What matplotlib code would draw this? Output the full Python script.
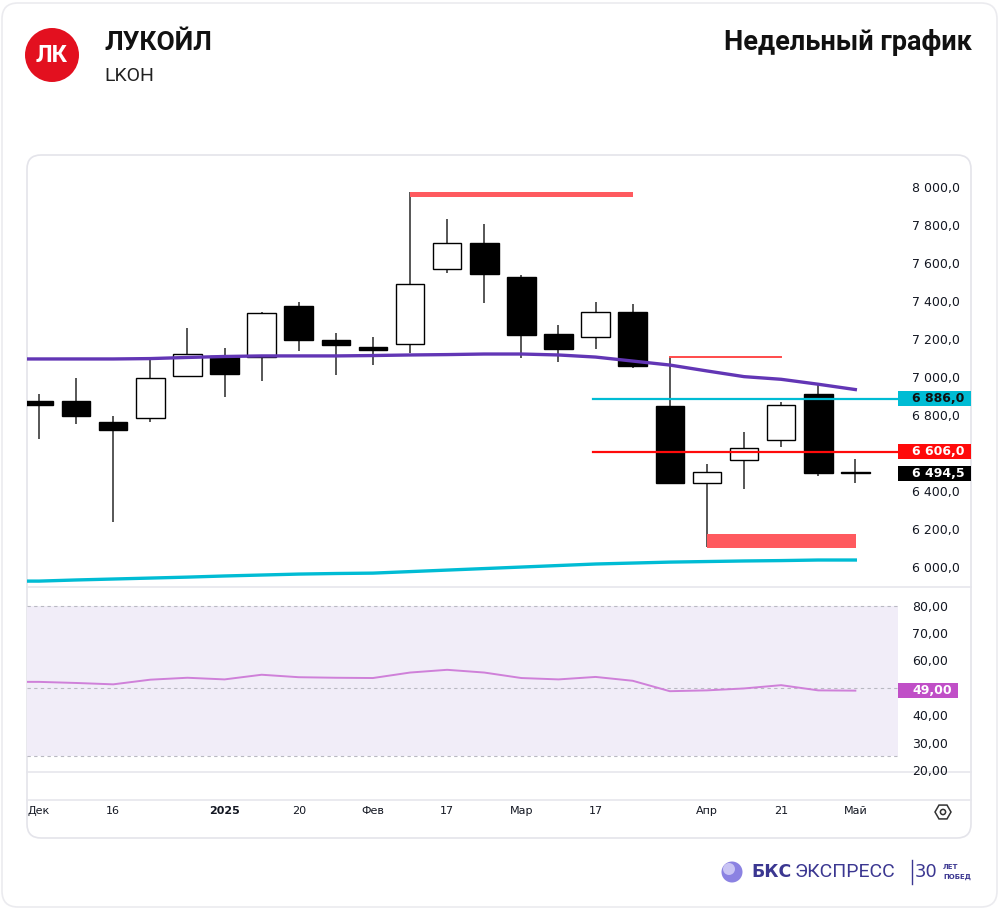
import matplotlib.pyplot as plt
import numpy as np
import pandas as pd
from matplotlib.patches import FancyBboxPatch, Rectangle, Circle, RegularPolygon
from matplotlib.transforms import IdentityTransform

# weekly candles LKOH, Dec 2024 - May 2025
dates = pd.date_range('2024-12-02', periods=23, freq='W-MON')
opens = [6874, 6874, 6765, 6783, 7005, 7111, 7105, 7372, 7193, 7156, 7172, 7570,
         7707, 7528, 7228, 7212, 7344, 6849, 6441, 6563, 6668, 6909, 6500]
highs = [6909, 6993, 6796, 7095, 7256, 7154, 7340, 7396, 7230, 7212, 7975, 7832,
         7804, 7535, 7275, 7393, 7383, 7107, 6542, 6712, 6870, 6958, 6570]
lows = [6675, 6751, 6235, 6762, 7002, 6896, 6977, 7138, 7012, 7065, 7128, 7549,
        7391, 7098, 7081, 7147, 7046, 6441, 6107, 6409, 6630, 6479, 6444]
closes = [6853, 6795, 6721, 6996, 7119, 7017, 7335, 7195, 7167, 7142, 7488, 7707,
          7542, 7221, 7147, 7344, 7059, 6441, 6502, 6625, 6851, 6496, 6494.5]
ma_slow = [7095, 7095, 7095, 7097, 7103, 7108, 7111, 7111, 7111, 7113, 7116, 7118,
           7121, 7121, 7116, 7105, 7084, 7063, 7032, 7002, 6988, 6962, 6934]
ma_long = [5926, 5932, 5937, 5942, 5947, 5953, 5958, 5963, 5966, 5968, 5976, 5984,
           5992, 6000, 6008, 6016, 6021, 6026, 6029, 6032, 6034, 6037, 6037]
rsi = [52.2, 51.8, 51.3, 53.0, 53.7, 53.1, 54.8, 53.9, 53.7, 53.6, 55.6, 56.6,
       55.6, 53.6, 53.1, 54.0, 52.6, 48.8, 49.1, 49.8, 51.0, 49.1, 49.0]

tick_idx = [0, 2, 5, 7, 9, 11, 13, 15, 18, 20, 22]
tick_labels = ['Дек', '16', '2025', '20', 'Фев', '17', 'Мар', '17', 'Апр', '21', 'Май']
price_ticks = [6000, 6200, 6400, 6800, 7000, 7200, 7400, 7600, 7800, 8000]
rsi_ticks = [20, 30, 40, 60, 70, 80]

level_support = 6606.0
level_resist = 6886.0
last_price = 6494.5
last_rsi = 49.0

W, H = 1000, 910
fig = plt.figure(figsize=(W / 100, H / 100), dpi=100)
fig.patch.set_facecolor('white')


def px(x, y):
    # pixel from top-left -> display coords
    return (x, H - y)


# outer frame and chart card
fig.patches.append(FancyBboxPatch(px(2, 907), 995, 904, boxstyle='round,pad=0,rounding_size=16',
                                  transform=IdentityTransform(), fc='white', ec='#ebebef',
                                  lw=1.2, zorder=-3))
fig.patches.append(FancyBboxPatch(px(27, 838), 944, 683, boxstyle='round,pad=0,rounding_size=14',
                                  transform=IdentityTransform(), fc='white', ec='#e4e4ea',
                                  lw=1.2, zorder=-2))
for yy in [587, 771.5, 800]:
    fig.lines.append(plt.Line2D([27, 971], [H - yy, H - yy], transform=IdentityTransform(),
                                color='#e6e6ec', lw=1.2, zorder=-1))

# header
fig.patches.append(Circle(px(52, 55), 27, transform=IdentityTransform(), fc='#e3101f', ec='none'))
fig.text(52 / W, 1 - 56 / H, 'ЛК', color='white', fontsize=17, fontweight='bold',
         family='Roboto', ha='center', va='center')
fig.text(104 / W, 1 - 43 / H, 'ЛУКОЙЛ', fontsize=19, fontweight='bold', family='Roboto',
         ha='left', va='center', color='#111111')
fig.text(104 / W, 1 - 76 / H, 'LKOH', fontsize=14, family='Roboto', ha='left', va='center',
         color='#222222')
fig.text(972 / W, 1 - 43 / H, 'Недельный график', fontsize=19.5, fontweight='bold',
         family='Roboto', ha='right', va='center', color='#111111')

# price panel
idx = np.arange(len(dates))
xmin, xmax = -0.323, 23.15
ax = fig.add_axes([27 / W, 1 - 587 / H, 871 / W, 427 / H])
ax.patch.set_alpha(0)
ax.set_xlim(xmin, xmax)
ax.set_ylim(5895, 8142)
for s in ax.spines.values():
    s.set_visible(False)
ax.set_xticks([])

o = np.array(opens); c = np.array(closes)
fills = ['white' if cc >= oo else 'black' for oo, cc in zip(o, c)]
ax.vlines(idx, lows, highs, color='#3a3a3a', lw=1.2, zorder=2)
ax.bar(idx, np.abs(c - o), bottom=np.minimum(o, c), width=0.77, color=fills,
       edgecolor='black', linewidth=1.0, zorder=3)

ext = np.r_[-1, idx]
ax.plot(ext, np.r_[ma_slow[0], ma_slow], color='#6236b5', lw=2.4, zorder=4)
ax.plot(ext, np.r_[ma_long[0], ma_long], color='#00bcd4', lw=2.4, zorder=4)

# drawn zones / levels
ax.fill_between([10, 16], 7946, 7975, color='#ff5a5f', lw=0, zorder=2)
ax.plot([17, 20], [7107, 7107], color='#ff4b4b', lw=1.4, zorder=2)
ax.fill_between([18, 22.02], 6102, 6172, color='#ff5a5f', lw=0, zorder=2)
ax.plot([14.93, xmax], [level_resist, level_resist], color='#00bcd4', lw=1.6, zorder=5)
ax.plot([14.93, xmax], [level_support, level_support], color='#ff0a0a', lw=1.6, zorder=5)


def fmt(v, nd):
    return f'{v:,.{nd}f}'.replace(',', ' ').replace('.', ',')


ax.yaxis.tick_right()
ax.set_yticks(price_ticks)
ax.set_yticklabels([fmt(v, 1) for v in price_ticks])
ax.tick_params(axis='y', length=0, pad=10, labelsize=9, labelcolor='#131722')

ytr = ax.get_yaxis_transform()
box_h = 15 / 0.19
for val, bg, fg in [(level_resist, '#00bcd4', '#111111'), (level_support, '#ff0a0a', 'white'),
                    (last_price, '#000000', 'white')]:
    ax.add_patch(Rectangle((1.0, val - box_h / 2), 0.0838, box_h, transform=ytr,
                           fc=bg, ec='none', clip_on=False, zorder=6))
    ax.text(1.0161, val, fmt(val, 1), transform=ytr, ha='left', va='center', fontsize=9,
            fontweight='bold', color=fg, zorder=7, clip_on=False)

# RSI panel
ax2 = fig.add_axes([27 / W, 1 - 771 / H, 871 / W, 181 / H])
ax2.patch.set_alpha(0)
ax2.set_xlim(xmin, xmax)
ax2.set_ylim(19.7, 85.7)
for s in ax2.spines.values():
    s.set_visible(False)
ax2.axhspan(25, 80, color='#f1edf8', lw=0, zorder=0)
for lv in [80, 50, 25]:
    ax2.axhline(lv, color='#b9b9c2', lw=0.8, ls=(0, (3, 3)), zorder=1)
ax2.plot(ext, np.r_[rsi[0], rsi], color='#cf80d9', lw=1.4, zorder=3)

ax2.yaxis.tick_right()
ax2.set_yticks(rsi_ticks)
ax2.set_yticklabels([fmt(v, 2) for v in rsi_ticks])
ax2.tick_params(axis='y', length=0, pad=10, labelsize=9, labelcolor='#131722')
ytr2 = ax2.get_yaxis_transform()
rbox_h = 15 / 2.743
ax2.add_patch(Rectangle((1.0, last_rsi - rbox_h / 2), 0.0689, rbox_h, transform=ytr2,
                        fc='#c04fc7', ec='none', clip_on=False, zorder=6))
ax2.text(1.0161, last_rsi, fmt(last_rsi, 2), transform=ytr2, ha='left', va='center',
         fontsize=9, fontweight='bold', color='white', clip_on=False, zorder=7)

ax2.set_xticks(tick_idx)
ax2.set_xticklabels(tick_labels)
ax2.tick_params(axis='x', length=0, pad=25, labelsize=8, labelcolor='#131722')
for lab in ax2.get_xticklabels():
    if lab.get_text() == '2025':
        lab.set_fontweight('bold')

# settings icon
fig.patches.append(RegularPolygon(px(943, 812), 6, radius=8, orientation=np.pi / 6,
                                  transform=IdentityTransform(), fc='none', ec='#333333', lw=1.1))
fig.patches.append(Circle(px(943, 812), 2.6, transform=IdentityTransform(), fc='none',
                          ec='#333333', lw=1.1))

# footer logo
fig.patches.append(Circle(px(732, 872), 10.5, transform=IdentityTransform(), fc='#8b82e2', ec='none'))
fig.patches.append(Circle(px(729, 869), 6, transform=IdentityTransform(), fc='#c9c4f4', ec='none'))
navy = '#3b3791'
fig.text(751 / W, 1 - 872 / H, 'БКС', fontsize=12.5, fontweight='bold', color=navy,
         ha='left', va='center')
fig.text(795 / W, 1 - 872 / H, 'ЭКСПРЕСС', fontsize=14, family='Roboto', color=navy,
         ha='left', va='center')
fig.lines.append(plt.Line2D([912, 912], [H - 860, H - 884], transform=IdentityTransform(),
                            color=navy, lw=1.0))
fig.text(915 / W, 1 - 872 / H, '30', fontsize=13, color=navy, ha='left', va='center')
fig.text(943 / W, 1 - 867 / H, 'ЛЕТ', fontsize=5, fontweight='bold', color=navy, ha='left', va='center')
fig.text(943 / W, 1 - 877 / H, 'ПОБЕД', fontsize=5, fontweight='bold', color=navy, ha='left', va='center')

fig.savefig('out.png', dpi=100, facecolor='white')
